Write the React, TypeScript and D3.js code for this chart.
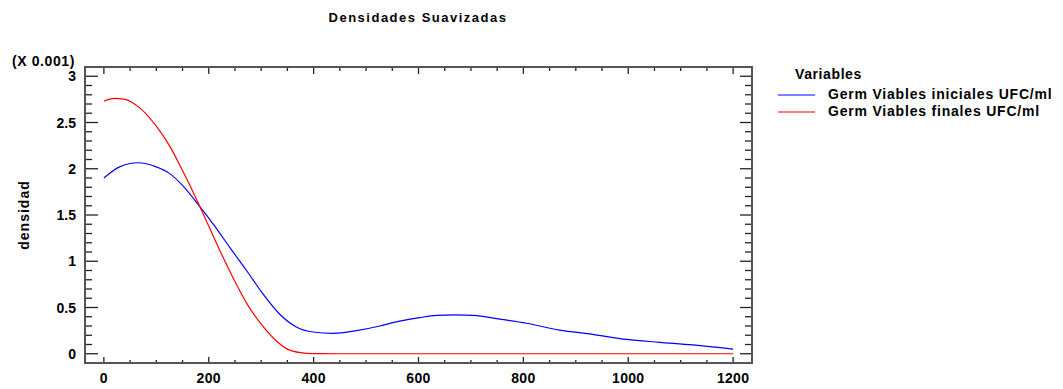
import React from "react";
import * as d3 from "d3";

// Smoothed density estimates (values in units of 0.001)
const initialX = [0, 30, 65, 100, 125, 150, 183, 210, 240, 272, 303, 335, 367, 399, 437, 482, 526, 551, 602, 634, 670, 704, 755, 806, 869, 932, 997, 1060, 1123, 1200];
const initialY = [1.9, 2.02, 2.065, 2.02, 1.95, 1.82, 1.59, 1.39, 1.15, 0.9, 0.65, 0.43, 0.29, 0.235, 0.22, 0.25, 0.3, 0.336, 0.39, 0.415, 0.42, 0.415, 0.375, 0.33, 0.255, 0.21, 0.155, 0.124, 0.095, 0.05];

const finalX = [0, 20, 40, 70, 100, 125, 150, 175, 200, 225, 250, 275, 300, 325, 350, 375, 400, 450, 600, 800, 1000, 1200];
const finalY = [2.73, 2.76, 2.75, 2.65, 2.46, 2.25, 1.98, 1.69, 1.38, 1.07, 0.78, 0.52, 0.32, 0.16, 0.05, 0.012, 0.002, 0, 0, 0, 0, 0];

const seriesNames = ["Germ Viables iniciales UFC/ml", "Germ Viables finales UFC/ml"];
const seriesColors = ["#0000ff", "#ff0000"];

const xMajorTicks = [0, 200, 400, 600, 800, 1000, 1200];
const yMajorTicks = [0, 0.5, 1, 1.5, 2, 2.5, 3];
const yTickLabels = ["0", "0.5", "1", "1.5", "2", "2.5", "3"];

const W = 1063;
const H = 389;
const plot = { left: 85, right: 752, top: 67, bottom: 363 };

export default function App() {
  const x = d3.scaleLinear().domain([-36, 1236]).range([plot.left, plot.right]);
  const y = d3.scaleLinear().domain([-0.1, 3.1]).range([plot.bottom, plot.top]);

  const line = d3
    .line<[number, number]>()
    .x((d) => x(d[0]))
    .y((d) => y(d[1]))
    .curve(d3.curveMonotoneX);

  const initialPts = initialX.map((v, i) => [v, initialY[i]] as [number, number]);
  const finalPts = finalX.map((v, i) => [v, finalY[i]] as [number, number]);

  const xMinor = d3.range(0, 1201, 50).filter((v) => v % 200 !== 0);
  const yMinor = d3.range(0, 31).map((v) => v / 10).filter((v) => Math.round(v * 10) % 5 !== 0);

  const font = "'Liberation Sans', Arial, sans-serif";
  const tickColor = "#222";

  return (
    <svg
      width={W}
      height={H}
      style={{ position: "absolute", left: 0, top: 0, background: "#fff" }}
      fontFamily={font}
      fontWeight="bold"
    >
      <rect x={0} y={0} width={W} height={H} fill="#fff" />
      <text x={418} y={22} fontSize={13} textAnchor="middle" letterSpacing={1.5} fill="#000">
        Densidades Suavizadas
      </text>
      <text x={12} y={66} fontSize={14} letterSpacing={0.6} fill="#000">
        (X 0.001)
      </text>
      <text
        transform={`translate(29, 215) rotate(-90)`}
        fontSize={14}
        textAnchor="middle"
        letterSpacing={1}
        fill="#000"
      >
        densidad
      </text>

      <defs>
        <clipPath id="plotClip">
          <rect x={plot.left} y={plot.top} width={plot.right - plot.left} height={plot.bottom - plot.top} />
        </clipPath>
      </defs>

      {/* density curves */}
      <g clipPath="url(#plotClip)">
        <path d={line(initialPts) ?? ""} fill="none" stroke={seriesColors[0]} strokeWidth={1.2} />
        <path d={line(finalPts) ?? ""} fill="none" stroke={seriesColors[1]} strokeWidth={1.2} />
      </g>

      {/* ticks on all four sides */}
      <g stroke={tickColor} strokeWidth={1.3}>
        {yMajorTicks.map((v) => (
          <g key={`ym${v}`}>
            <line x1={plot.left} x2={plot.left + 13} y1={y(v)} y2={y(v)} />
            <line x1={plot.right} x2={plot.right - 12} y1={y(v)} y2={y(v)} />
          </g>
        ))}
        {yMinor.map((v) => (
          <g key={`yn${v}`}>
            <line x1={plot.left} x2={plot.left + 7} y1={y(v)} y2={y(v)} />
            <line x1={plot.right} x2={plot.right - 7} y1={y(v)} y2={y(v)} />
          </g>
        ))}
        {xMajorTicks.map((v) => (
          <g key={`xm${v}`}>
            <line x1={x(v)} x2={x(v)} y1={plot.bottom} y2={plot.bottom - 6} />
            <line x1={x(v)} x2={x(v)} y1={plot.top} y2={plot.top + 7} />
          </g>
        ))}
        {xMinor.map((v) => (
          <g key={`xn${v}`}>
            <line x1={x(v)} x2={x(v)} y1={plot.bottom} y2={plot.bottom - 3} />
            <line x1={x(v)} x2={x(v)} y1={plot.top} y2={plot.top + 4} />
          </g>
        ))}
      </g>

      <rect
        x={plot.left}
        y={plot.top}
        width={plot.right - plot.left}
        height={plot.bottom - plot.top}
        fill="none"
        stroke="#555"
        strokeWidth={2}
      />

      {/* tick labels */}
      {yMajorTicks.map((v, i) => (
        <text key={`yl${v}`} x={76} y={y(v) + 5} fontSize={14} textAnchor="end" fill="#000">
          {yTickLabels[i]}
        </text>
      ))}
      {xMajorTicks.map((v) => (
        <text key={`xl${v}`} x={x(v)} y={383} fontSize={14} letterSpacing={0.3} textAnchor="middle" fill="#000">
          {v}
        </text>
      ))}

      {/* legend */}
      <text x={795} y={79} fontSize={14} letterSpacing={0.6} fill="#000">
        Variables
      </text>
      {seriesNames.map((name, i) => (
        <g key={name}>
          <line x1={778} x2={815} y1={95 + i * 17} y2={95 + i * 17} stroke={seriesColors[i]} strokeWidth={1.2} />
          <text x={828} y={99 + i * 17} fontSize={14} letterSpacing={0.8} fill="#000">
            {name}
          </text>
        </g>
      ))}
    </svg>
  );
}
